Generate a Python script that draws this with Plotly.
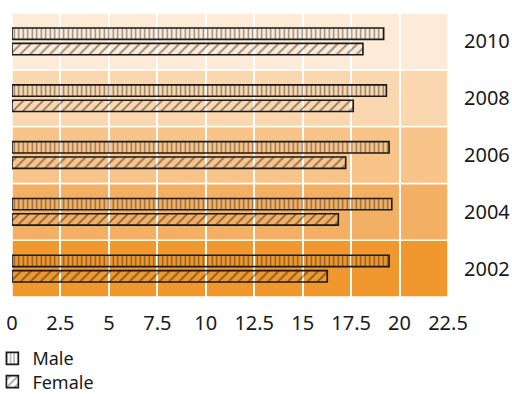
import plotly.graph_objects as go

# Survey years (bottom to top) and values per group
years = ["2002", "2004", "2006", "2008", "2010"]
male = [19.46, 19.6, 19.46, 19.32, 19.18]
female = [16.27, 16.84, 17.22, 17.61, 18.11]
x_ticks = [0, 2.5, 5, 7.5, 10, 12.5, 15, 17.5, 20, 22.5]
x_tick_text = ["0", "2.5", "5", "7.5", "10", "12.5", "15", "17.5", "20", "22.5"]

# Background band colour per year, darkest for the earliest
band_colors = ["#F0982E", "#F3AF63", "#F9C48A", "#FAD7AE", "#FDEBD7"]

FONT = "Noto Sans"
INK = "#1a1a1a"

fig = go.Figure()

# Female added first so that Male sits on top within each group
fig.add_trace(go.Bar(
    y=years, x=female, orientation="h", name="Female",
    marker=dict(
        color="rgba(0,0,0,0)",
        line=dict(color=INK, width=1.6),
        pattern=dict(shape="/", fgcolor=INK, size=7, solidity=0.25, fillmode="overlay"),
    ),
    legend="legend2",
))
fig.add_trace(go.Bar(
    y=years, x=male, orientation="h", name="Male",
    marker=dict(
        color="rgba(0,0,0,0)",
        line=dict(color=INK, width=1.6),
        pattern=dict(shape="|", fgcolor=INK, size=4.5, solidity=0.3, fillmode="overlay"),
    ),
    legend="legend",
))

# Coloured band behind each year with white separators
shapes = []
for i, c in enumerate(band_colors):
    shapes.append(dict(
        type="rect", xref="x", yref="y", layer="below",
        x0=0, x1=22.5, y0=i - 0.5, y1=i + 0.5,
        fillcolor=c, line=dict(color="white", width=1.5),
    ))

legend_style = dict(
    xanchor="left", yanchor="top",
    font=dict(family=FONT, size=18, color=INK),
    bgcolor="rgba(0,0,0,0)", itemwidth=30,
)

fig.update_layout(
    width=512, height=394,
    margin=dict(l=12, r=64, t=13, b=97, autoexpand=False),
    paper_bgcolor="white", plot_bgcolor="white",
    barmode="group", bargap=0.46, bargroupgap=0.26,
    shapes=shapes,
    font=dict(family=FONT, size=20, color=INK),
    showlegend=True,
    legend=dict(x=-0.045, y=-0.152, **legend_style),
    legend2=dict(x=-0.045, y=-0.234, **legend_style),
    xaxis=dict(
        range=[0, 22.5], tickvals=x_ticks, ticktext=x_tick_text,
        showgrid=True, gridcolor="white", gridwidth=1.5,
        zeroline=False, showline=False,
        ticks="outside", ticklen=8, tickcolor="rgba(0,0,0,0)",
        tickfont=dict(family=FONT, size=20, color=INK),
        automargin=False,
    ),
    yaxis=dict(
        side="right", showgrid=False, zeroline=False, showline=False,
        ticks="outside", ticklen=11, tickcolor="rgba(0,0,0,0)",
        tickfont=dict(family=FONT, size=20, color=INK),
        range=[-0.5, 4.5], automargin=False,
    ),
)

fig.write_html("out.html")
